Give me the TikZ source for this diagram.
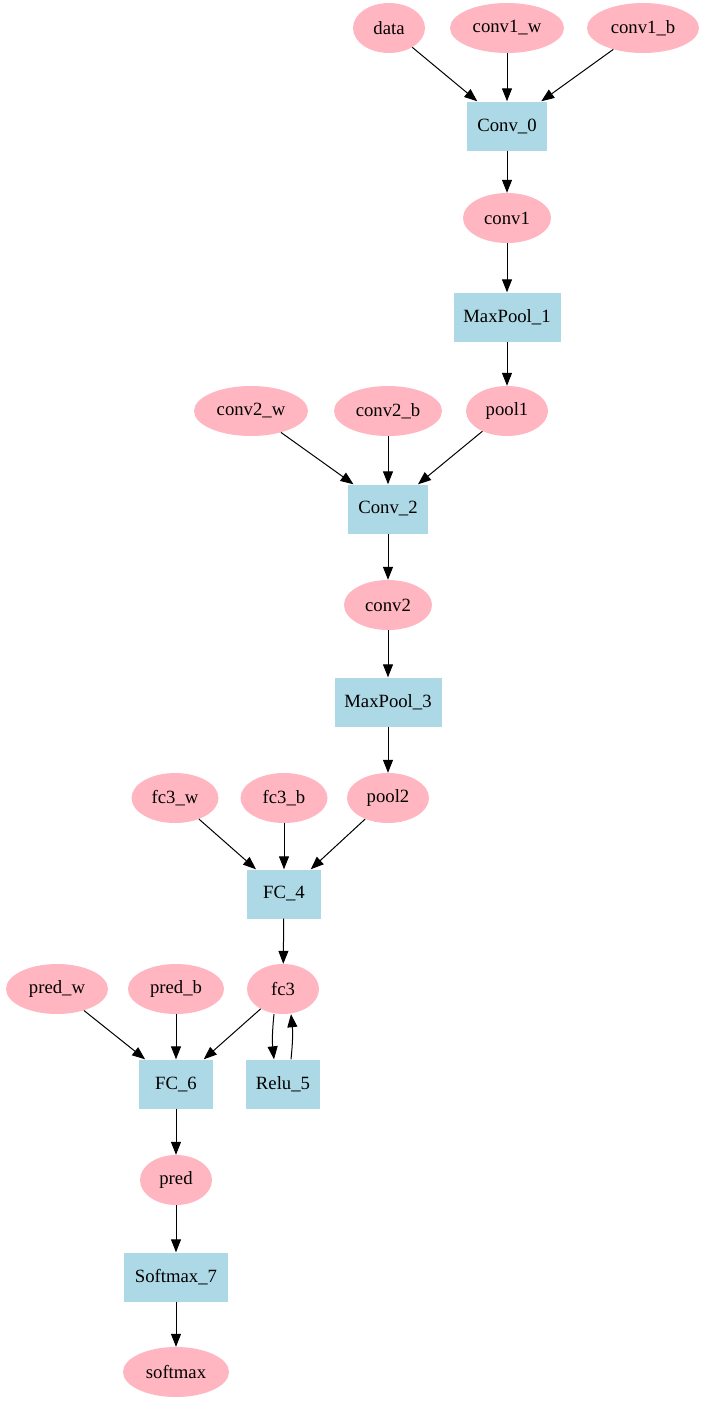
\documentclass[tikz,border=0pt]{standalone}
\usepackage{fontspec}
\setmainfont{Liberation Serif}
\usetikzlibrary{arrows.meta,shapes.geometric}

\definecolor{lightpink}{RGB}{255,182,193}
\definecolor{lightblue}{RGB}{173,216,230}

\tikzset{
	tensor/.style={ellipse, fill=lightpink, inner sep=0pt, minimum height=50pt, minimum width=72pt},
	op/.style={rectangle, fill=lightblue, inner sep=0pt, minimum height=49pt, minimum width=74pt},
	flow/.style={-{Triangle[length=13pt,width=10pt]}, line width=1pt}
}

\begin{document}
\begin{tikzpicture}[x=1pt, y=-1pt, font=\fontsize{18.7}{22}\selectfont]
		\useasboundingbox (0,0) rectangle (701,1403);
		% first convolution block
		\node[tensor]                    (data)    at (389, 28) {data};
		\node[tensor, minimum width=114] (conv1w)  at (507, 28) {conv1\_w};
		\node[tensor, minimum width=112] (conv1b)  at (643, 28) {conv1\_b};
		\node[op, minimum width=80]      (conv0)   at (507,126) {Conv\_0};
		\node[tensor, minimum width=88]  (conv1)   at (507,218) {conv1};
		\node[op, minimum width=107]     (pool1op) at (507,317) {MaxPool\_1};
		\node[tensor, minimum width=82]  (pool1)   at (507,411) {pool1};
		% second convolution block
		\node[tensor, minimum width=114] (conv2w)  at (251,411) {conv2\_w};
		\node[tensor, minimum width=108] (conv2b)  at (388,411) {conv2\_b};
		\node[op, minimum width=80]      (conv2op) at (388,509) {Conv\_2};
		\node[tensor, minimum width=88]  (conv2)   at (388,605) {conv2};
		\node[op, minimum width=107]     (pool3op) at (388,702) {MaxPool\_3};
		\node[tensor, minimum width=82]  (pool2)   at (388,798) {pool2};
		% fully connected part
		\node[tensor, minimum width=87]  (fc3w)    at (175,798) {fc3\_w};
		\node[tensor, minimum width=87]  (fc3b)    at (284,798) {fc3\_b};
		\node[op]                        (fc4)     at (284,894) {FC\_4};
		\node[tensor]                    (fc3)     at (283,989) {fc3};
		\node[op]                        (relu5)   at (283,1084) {Relu\_5};
		\node[tensor, minimum width=102] (predw)   at (57,989) {pred\_w};
		\node[tensor, minimum width=96]  (predb)   at (176,989) {pred\_b};
		\node[op]                        (fc6)     at (176,1084) {FC\_6};
		\node[tensor]                    (pred)    at (176,1180) {pred};
		\node[op, minimum width=104]     (soft7)   at (176,1277) {Softmax\_7};
		\node[tensor, minimum width=106] (softmax) at (176,1372) {softmax};
		% edges
		\draw[flow] (data) -- (conv0);
		\draw[flow] (conv1w) -- (conv0);
		\draw[flow] (conv1b) -- (conv0);
		\draw[flow] (conv0) -- (conv1);
		\draw[flow] (conv1) -- (pool1op);
		\draw[flow] (pool1op) -- (pool1);
		\draw[flow] (conv2w) -- (conv2op);
		\draw[flow] (conv2b) -- (conv2op);
		\draw[flow] (pool1) -- (conv2op);
		\draw[flow] (conv2op) -- (conv2);
		\draw[flow] (conv2) -- (pool3op);
		\draw[flow] (pool3op) -- (pool2);
		\draw[flow] (fc3w) -- (fc4);
		\draw[flow] (fc3b) -- (fc4);
		\draw[flow] (pool2) -- (fc4);
		\draw[flow] (fc4) -- (fc3);
		\draw[flow] ([xshift=-9pt]fc3.south) to[bend right=6] ([xshift=-9pt]relu5.north);
		\draw[flow] ([xshift=8pt]relu5.north) to[bend right=6] ([xshift=8pt]fc3.south);
		\draw[flow] (predw) -- (fc6);
		\draw[flow] (predb) -- (fc6);
		\draw[flow] (fc3) -- (fc6);
		\draw[flow] (fc6) -- (pred);
		\draw[flow] (pred) -- (soft7);
		\draw[flow] (soft7) -- (softmax);
	\end{tikzpicture}
\end{document}
